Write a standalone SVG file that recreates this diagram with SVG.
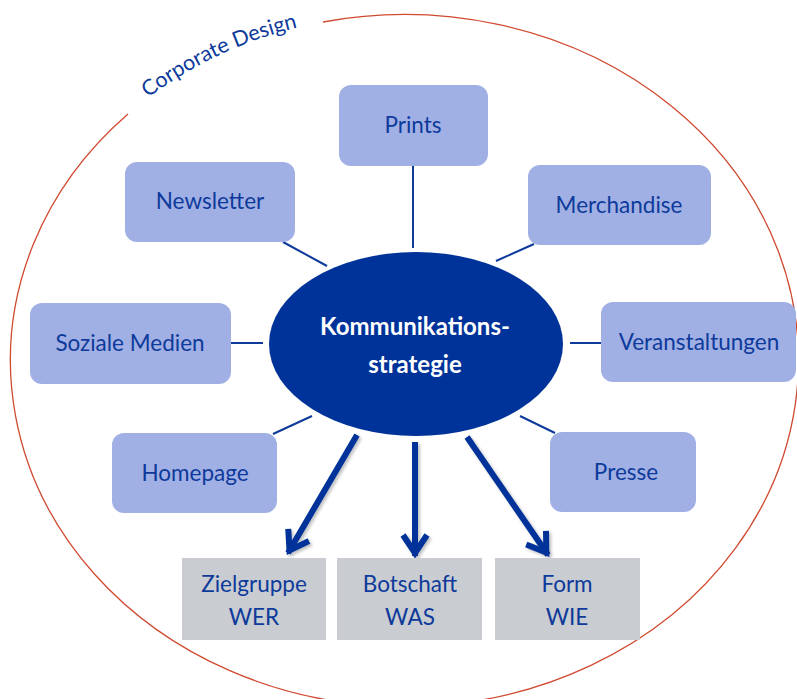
<svg xmlns="http://www.w3.org/2000/svg" width="797" height="699" viewBox="0 0 797 699">
<defs>
<style>
.box{fill:#a1b0e4}
.gray{fill:#c9ccd0}
.lbl{font-family:Lato,"Liberation Sans",sans-serif;font-size:22.5px;fill:#0d3a9b;text-anchor:middle}
.ctr{font-family:Lato,"Liberation Sans",sans-serif;font-size:24px;font-weight:bold;fill:#ffffff;text-anchor:middle}
.con{stroke:#0d3a9b;stroke-width:2;fill:none}
.arr{stroke:#003399;stroke-width:6;fill:none;marker-end:url(#head)}
</style>
<marker id="head" markerUnits="userSpaceOnUse" viewBox="-30 -20 40 40" markerWidth="40" markerHeight="40" refX="0" refY="0" orient="auto">
<path d="M-21,-12 L-3,0 L-21,12" stroke="#003399" stroke-width="6" fill="none" stroke-linejoin="miter"/>
</marker>
<filter id="sh" filterUnits="userSpaceOnUse" x="0" y="0" width="797" height="699">
<feDropShadow dx="2" dy="2" stdDeviation="1.5" flood-color="#000" flood-opacity="0.25"/>
</filter>
<path id="cdpath" d="M128,114 A394,346 0 0 1 323,22"/>
</defs>
<g id="frame">
<path d="M323,22 A394,346 0 1 1 128,114" fill="none" stroke="#d04a30" stroke-width="1.3"/>
<text font-family="Lato,'Liberation Sans',sans-serif" font-size="21.5" fill="#0d3a9b" text-anchor="middle"><textPath href="#cdpath" startOffset="50%">Corporate Design</textPath></text>
</g>
<g id="connectors">
<line class="con" x1="413" y1="166" x2="413" y2="248"/>
<line class="con" x1="283" y1="242" x2="327" y2="266"/>
<line class="con" x1="534" y1="244" x2="496" y2="261"/>
<line class="con" x1="570" y1="343" x2="601" y2="343"/>
<line class="con" x1="231" y1="343" x2="263" y2="343"/>
<line class="con" x1="273" y1="434" x2="312" y2="416"/>
<line class="con" x1="520" y1="416" x2="555" y2="433"/>
<g filter="url(#sh)">
<line class="arr" x1="357" y1="435" x2="288" y2="553"/>
<line class="arr" x1="415" y1="442" x2="415" y2="556"/>
<line class="arr" x1="467" y1="437" x2="548" y2="555"/>
</g>
</g>
<g id="center">
<ellipse cx="416" cy="344" rx="147" ry="92" fill="#003399"/>
<text class="ctr" x="415" y="335">Kommunikations-</text>
<text class="ctr" x="415" y="373">strategie</text>
</g>
<g id="prints"><rect class="box" x="339" y="85" width="149" height="81" rx="12"/><text class="lbl" x="413" y="133">Prints</text></g>
<g id="newsletter"><rect class="box" x="125" y="162" width="170" height="80" rx="12"/><text class="lbl" x="210" y="209">Newsletter</text></g>
<g id="merchandise"><rect class="box" x="528" y="165" width="183" height="80" rx="12"/><text class="lbl" x="619" y="213">Merchandise</text></g>
<g id="soziale"><rect class="box" x="30" y="303" width="201" height="81" rx="12"/><text class="lbl" x="130" y="351">Soziale Medien</text></g>
<g id="veranstaltungen"><rect class="box" x="601" y="302" width="195" height="80" rx="12"/><text class="lbl" x="699" y="350">Veranstaltungen</text></g>
<g id="homepage"><rect class="box" x="112" y="433" width="165" height="80" rx="12"/><text class="lbl" x="195" y="481">Homepage</text></g>
<g id="presse"><rect class="box" x="550" y="432" width="146" height="80" rx="12"/><text class="lbl" x="626" y="480">Presse</text></g>
<g id="zielgruppe"><rect class="gray" x="182" y="558" width="144" height="82"/><text class="lbl" x="254" y="592">Zielgruppe</text><text class="lbl" x="254" y="625">WER</text></g>
<g id="botschaft"><rect class="gray" x="337" y="558" width="145" height="82"/><text class="lbl" x="410" y="592">Botschaft</text><text class="lbl" x="410" y="625">WAS</text></g>
<g id="form"><rect class="gray" x="495" y="558" width="145" height="82"/><text class="lbl" x="567" y="592">Form</text><text class="lbl" x="567" y="625">WIE</text></g>
</svg>
